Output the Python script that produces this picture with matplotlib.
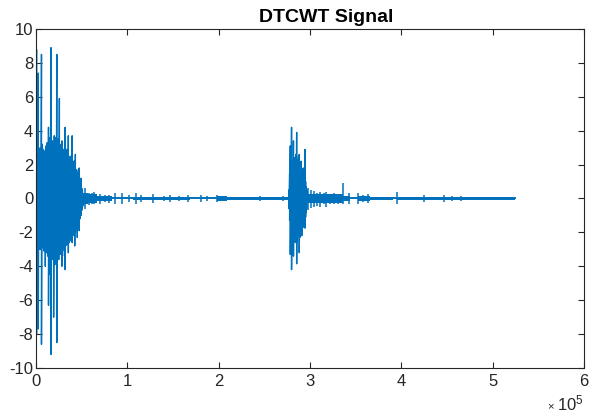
import matplotlib
matplotlib.use("Agg")
import matplotlib.pyplot as plt

plt.rcParams["font.family"] = ["Liberation Sans", "DejaVu Sans"]
plt.rcParams["mathtext.fontset"] = "custom"
plt.rcParams["mathtext.rm"] = "Liberation Sans"
plt.rcParams["mathtext.it"] = "Liberation Sans"

LINE = "#0072BD"
AXC = "#262626"

# ---- first burst: sample index, positive peak, negative peak ----
burst1_x = [0, 600, 1200, 1800, 2500, 3200, 3900, 4600, 5300, 6000, 6700, 7400,
            8100, 8800, 9500, 10200, 10900, 11600, 12300, 13000, 13700, 14400,
            15100, 15800, 16500, 17200, 17900, 18600, 19300, 20000, 20700, 21400,
            22100, 22800, 23500, 24200, 24900, 25600, 26300, 27000, 27700, 28400,
            29100, 29800, 30500, 31200, 31900, 32600, 33300, 34000, 34700, 35400,
            36100, 36800, 37500, 38200, 38900, 39600, 40300, 41000, 41700, 42400,
            43100, 43800, 44500, 45200, 45900, 46600, 47300, 48000, 48700, 49400,
            50100, 50800, 51500]
burst1_hi = [8.9, 8.8, 3.0, 6.5, 7.4, 2.8, 2.5, 3.0, 2.7, 8.5, 3.2, 2.6,
             2.9, 2.4, 2.8, 2.5, 3.1, 2.6, 3.3, 2.9, 4.2, 3.0,
             3.6, 2.8, 8.9, 3.0, 3.4, 2.8, 3.2, 3.7, 3.0, 3.6,
             3.2, 8.5, 3.1, 3.5, 2.9, 5.9, 3.2, 2.8, 3.0, 3.4,
             2.6, 2.9, 2.5, 2.8, 4.2, 2.6, 2.9, 2.3, 2.6, 3.7,
             2.4, 2.2, 2.5, 2.1, 2.3, 3.7, 2.0, 2.2, 1.9, 2.2,
             2.6, 1.6, 1.7, 1.5, 1.4, 1.6, 1.8, 1.1, 0.9, 1.2,
             0.6, 0.5, 0.3]
burst1_lo = [-9.2, -8.0, -3.0, -6.0, -7.7, -3.0, -2.8, -2.5, -3.0, -8.6, -2.9, -2.7,
             -2.4, -3.1, -2.6, -4.0, -2.8, -3.2, -2.9, -3.4, -6.3, -3.0,
             -3.3, -4.5, -9.2, -3.5, -3.0, -3.6, -7.0, -3.2, -3.9, -3.0,
             -3.4, -8.5, -3.3, -3.0, -3.6, -3.2, -3.0, -3.3, -2.7, -4.0,
             -3.1, -2.6, -2.9, -3.4, -4.2, -2.8, -2.4, -2.7, -2.3, -3.2,
             -2.6, -2.2, -2.4, -2.5, -2.1, -2.6, -2.2, -1.9, -2.1, -2.8,
             -2.0, -1.8, -1.5, -2.3, -1.3, -1.5, -1.9, -1.2, -1.0, -1.0,
             -0.7, -0.5, -0.4]

# ---- second burst ----
burst2_x = [277000, 277700, 278400, 279100, 279800, 280500, 281200, 281900,
            282600, 283300, 284000, 284700, 285400, 286100, 286800, 287500,
            288200, 288900, 289600, 290300, 291000, 291700, 292400, 293100,
            293800, 294500, 295200, 295900, 296600]
burst2_hi = [0.5, 1.5, 3.1, 2.0, 4.2, 2.2, 1.9, 3.4,
             2.1, 2.4, 2.0, 2.6, 3.9, 2.3, 2.0, 2.5,
             2.6, 1.9, 1.7, 2.2, 1.8, 1.6, 1.4, 1.8,
             1.2, 2.9, 1.0, 0.7, 0.5]
burst2_lo = [-0.6, -1.3, -3.3, -2.2, -4.2, -2.5, -2.0, -3.4,
             -2.4, -1.9, -2.6, -2.1, -3.85, -2.5, -2.2, -2.0,
             -3.2, -2.3, -2.1, -1.8, -2.2, -1.5, -1.7, -1.4,
             -1.3, -1.75, -1.1, -0.8, -0.6]

# ---- low-level residual noise: segment start, segment end, half-width ----
noise_start = [51500, 57000, 66800, 106000, 198000, 209000,
               296700, 336000, 352500, 365700, 395300, 409500, 447000, 463000]
noise_end = [57000, 66800, 83200, 168600, 209000, 278000,
             336000, 344000, 365700, 391000, 409500, 447000, 463000, 524288]
noise_amp = [0.35, 0.25, 0.17, 0.1, 0.13, 0.08,
             0.25, 0.13, 0.16, 0.08, 0.1, 0.07, 0.09, 0.06]

# ---- isolated spikes in the quiet parts ----
blip_x = [54000, 58000, 61000, 64000, 70000, 75000, 80000, 86000, 94000,
          102000, 110000, 115000, 128000, 140000, 147000, 157000, 166000,
          181000, 187000, 198000, 204000, 245000, 262000, 270000,
          298000, 301000, 304000, 308000, 311000, 315000, 318000, 322000,
          326000, 331000, 336000, 343000, 353000, 358000, 363000,
          395000, 425000, 447000, 455000, 465000]
blip_hi = [0.6, 0.35, 0.3, 0.4, 0.25, 0.2, 0.22, 0.3, 0.3,
           0.2, 0.3, 0.2, 0.25, 0.15, 0.2, 0.15, 0.2,
           0.2, 0.15, 0.2, 0.15, 0.12, 0.1, 0.12,
           0.6, 0.5, 0.45, 0.35, 0.4, 0.3, 0.4, 0.25,
           0.3, 0.25, 0.93, 0.3, 0.3, 0.2, 0.25,
           0.4, 0.2, 0.2, 0.12, 0.15]
blip_lo = [-0.6, -0.4, -0.35, -0.3, -0.3, -0.2, -0.25, -0.3, -0.3,
           -0.2, -0.3, -0.2, -0.25, -0.15, -0.2, -0.15, -0.2,
           -0.2, -0.15, -0.2, -0.15, -0.12, -0.1, -0.12,
           -0.7, -0.55, -0.5, -0.45, -0.5, -0.35, -0.5, -0.3,
           -0.35, -0.3, -0.3, -0.3, -0.3, -0.2, -0.25,
           -0.3, -0.2, -0.2, -0.12, -0.15]

signal_end = 524288

x_ticks = [0, 100000, 200000, 300000, 400000, 500000, 600000]
x_ticklabels = ["0", "1", "2", "3", "4", "5", "6"]
y_ticks = [-10, -8, -6, -4, -2, 0, 2, 4, 6, 8, 10]


def zigzag(xs, his, los):
    px, py = [], []
    for x, h, l in zip(xs, his, los):
        px += [x, x]
        py += [h, l]
    return px, py


fig = plt.figure(figsize=(5.92, 4.17), dpi=100)
ax = fig.add_axes([36 / 592, 1 - 368 / 417, 548 / 592, 339 / 417])

# baseline of the trace
ax.plot([0, signal_end], [0, 0], color=LINE, lw=1.4)

for s, e, a in zip(noise_start, noise_end, noise_amp):
    ax.fill_between([s, e], [a, a], [-a, -a], color=LINE, lw=0)

ax.vlines(blip_x, blip_lo, blip_hi, color=LINE, lw=1.1)

bx, by = zigzag(burst1_x, burst1_hi, burst1_lo)
ax.plot(bx, by, color=LINE, lw=1.0)
bx, by = zigzag(burst2_x, burst2_hi, burst2_lo)
ax.plot(bx, by, color=LINE, lw=1.0)

ax.set_xlim(0, 600000)
ax.set_ylim(-10, 10)
ax.set_xticks(x_ticks)
ax.set_xticklabels(x_ticklabels)
ax.set_yticks(y_ticks)
ax.set_yticklabels([str(v) for v in y_ticks])
ax.tick_params(direction="in", length=4, width=0.8, top=True, right=True,
               colors=AXC, labelsize=12)
ax.tick_params(axis="x", pad=4)
ax.tick_params(axis="y", pad=2)
for sp in ax.spines.values():
    sp.set_color(AXC)
    sp.set_linewidth(0.8)

fig.text(326 / 592, 1 - 22 / 417, "DTCWT Signal", ha="center", va="baseline",
         fontsize=14, fontweight="bold", color="black")

# axis exponent label
fig.text(550 / 592, 1 - 409 / 417, "\u00d7", ha="center", va="baseline",
         fontsize=8, color=AXC)
fig.text(557 / 592, 1 - 410 / 417, r"10$^{5}$", ha="left", va="baseline",
         fontsize=12, color=AXC)

fig.savefig("out.png", dpi=100)
